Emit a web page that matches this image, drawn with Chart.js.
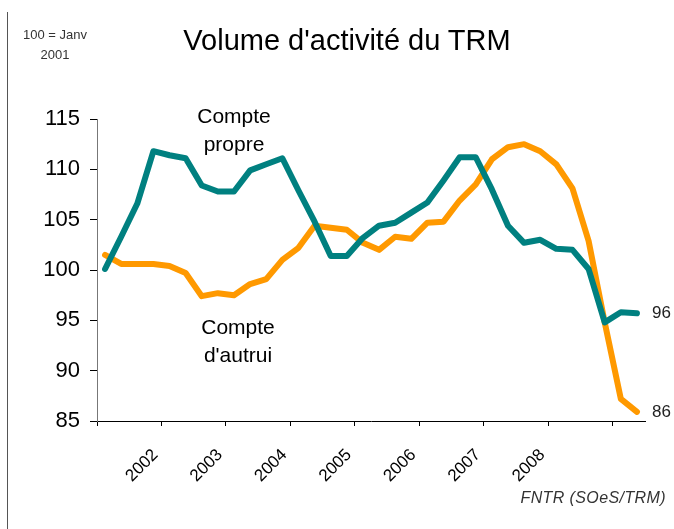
<!DOCTYPE html>
<html lang="fr">
<head>
<meta charset="utf-8">
<title>Volume d'activité du TRM</title>
<script src="https://cdn.jsdelivr.net/npm/chart.js@4/dist/chart.umd.min.js"></script>
<style>
  html, body { margin: 0; padding: 0; background: #fff; }
  #wrap { position: relative; width: 674px; height: 529px; overflow: hidden; font-family: "Liberation Sans", Arial, sans-serif; }
  #chart { position: absolute; left: 0; top: 0; }
  .txt { position: absolute; color: #000; white-space: nowrap; }
  #edge { position: absolute; left: 7px; top: 12px; width: 1px; height: 517px; background: #555; }
  #base { left: 22px; top: 25px; width: 66px; text-align: center; font-family: "Liberation Sans Narrow", "Liberation Sans", Arial, sans-serif; font-size: 13px; line-height: 20px; color: #333; }
  #title { left: 0; width: 694px; top: 24px; text-align: center; font-size: 29px; }
  #propre { left: 174px; top: 102px; width: 120px; text-align: center; font-size: 21px; line-height: 28px; }
  #autrui { left: 178px; top: 313px; width: 120px; text-align: center; font-size: 21px; line-height: 28px; }
  #source { right: 8px; top: 489px; font-size: 16px; font-style: italic; color: #333; letter-spacing: 0.4px; }
</style>
</head>
<body>
<div id="wrap">
  <canvas id="chart" width="674" height="529"></canvas>
  <div id="edge"></div>
  <div class="txt" id="base">100 = Janv<br>2001</div>
  <div class="txt" id="title">Volume d'activité du TRM</div>
  <div class="txt" id="propre">Compte<br>propre</div>
  <div class="txt" id="autrui">Compte<br>d'autrui</div>
  <div class="txt" id="source">FNTR (SOeS/TRM)</div>
</div>
<script>
// trimestres, de 2001T1 a 2009T2
const quarters = [
  '2001T1','2001T2','2001T3','2001T4','2002T1','2002T2','2002T3','2002T4',
  '2003T1','2003T2','2003T3','2003T4','2004T1','2004T2','2004T3','2004T4',
  '2005T1','2005T2','2005T3','2005T4','2006T1','2006T2','2006T3','2006T4',
  '2007T1','2007T2','2007T3','2007T4','2008T1','2008T2','2008T3','2008T4',
  '2009T1','2009T2'
];

// indice 100 = janvier 2001
const comptePropre = [
  100.1, 103.3, 106.6, 111.8, 111.4, 111.1, 108.4, 107.8,
  107.8, 109.9, 110.5, 111.1, 107.9, 104.8, 101.4, 101.4,
  103.2, 104.4, 104.7, 105.7, 106.7, 108.9, 111.2, 111.2,
  108.0, 104.4, 102.7, 103.0, 102.1, 102.0, 100.1, 94.8,
  95.8, 95.7
];
const compteAutrui = [
  101.5, 100.6, 100.6, 100.6, 100.4, 99.7, 97.4, 97.7,
  97.5, 98.6, 99.1, 101.0, 102.2, 104.4, 104.2, 104.0,
  102.7, 102.0, 103.3, 103.1, 104.7, 104.8, 106.9, 108.5,
  111.0, 112.2, 112.5, 111.8, 110.5, 108.1, 102.9, 94.8,
  87.2, 85.9
];

// une graduation par debut d'annee (2001 ... 2009)
const yearTicks = ['', '2002', '2003', '2004', '2005', '2006', '2007', '2008', ''];
const yTicks = [85, 90, 95, 100, 105, 110, 115];

const toPoints = vals => quarters.map((q, i) => ({ x: i + 0.5, y: vals[i] }));

// valeur finale a droite de chaque courbe
const endLabels = {
  id: 'endLabels',
  afterDatasetsDraw(chart) {
    const ctx = chart.ctx;
    ctx.save();
    ctx.font = '17px "Liberation Sans", Arial, sans-serif';
    ctx.fillStyle = '#222';
    ctx.textAlign = 'left';
    ctx.textBaseline = 'middle';
    chart.data.datasets.forEach((ds, i) => {
      const pts = chart.getDatasetMeta(i).data;
      const last = pts[pts.length - 1];
      const v = ds.data[ds.data.length - 1].y;
      ctx.fillText(String(Math.round(v)), last.x + 15, last.y);
    });
    ctx.restore();
  }
};

new Chart(document.getElementById('chart'), {
  type: 'line',
  data: {
    datasets: [
      {
        label: 'Compte propre',
        data: toPoints(comptePropre),
        borderColor: '#008080',
        borderWidth: 6,
        pointRadius: 0,
        tension: 0,
        borderJoinStyle: 'round',
        borderCapStyle: 'round'
      },
      {
        label: "Compte d'autrui",
        data: toPoints(compteAutrui),
        borderColor: '#FF9900',
        borderWidth: 6,
        pointRadius: 0,
        tension: 0,
        borderJoinStyle: 'round',
        borderCapStyle: 'round'
      }
    ]
  },
  options: {
    responsive: false,
    animation: false,
    layout: { padding: { top: 119, right: 29, left: 0, bottom: 0 } },
    plugins: { legend: { display: false }, tooltip: { enabled: false } },
    scales: {
      x: {
        type: 'linear',
        min: 0,
        max: quarters.length,
        afterBuildTicks: s => { s.ticks = yearTicks.map((t, i) => ({ value: i * 4 })); },
        afterFit: s => { s.height = 108; },
        border: { display: true, color: '#000', width: 1 },
        grid: { drawOnChartArea: false, drawTicks: true, tickLength: 5, color: '#000' },
        ticks: {
          minRotation: 45,
          maxRotation: 45,
          padding: 19,
          labelOffset: -6,
          color: '#000',
          font: { family: '"Liberation Sans", Arial, sans-serif', size: 17 },
          callback: (v) => yearTicks[Math.round(v / 4)] ?? ''
        }
      },
      y: {
        min: 85,
        max: 115,
        afterBuildTicks: s => { s.ticks = yTicks.map(v => ({ value: v })); },
        afterFit: s => { s.width = 97; },
        border: { display: true, color: '#777', width: 1 },
        grid: { drawOnChartArea: false, drawTicks: true, tickLength: 7, color: '#000' },
        ticks: {
          padding: 10,
          color: '#000',
          font: { family: '"Liberation Sans", Arial, sans-serif', size: 22 }
        }
      }
    }
  },
  plugins: [endLabels]
});
</script>
</body>
</html>
